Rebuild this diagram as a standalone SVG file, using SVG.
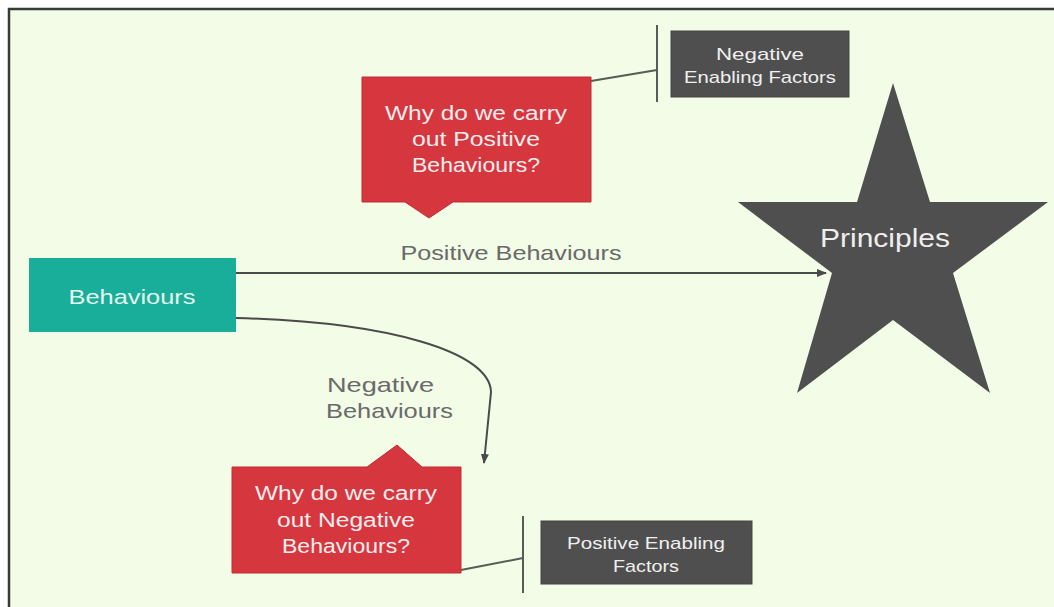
<svg xmlns="http://www.w3.org/2000/svg" width="1054" height="607" viewBox="0 0 1054 607">
<defs>
<style>
text{font-family:"Century Gothic","URW Gothic","Liberation Sans",Arial,sans-serif;}
.w{fill:#fbeeee;text-anchor:middle;font-size:20px;}
.g{fill:#f0f0f0;text-anchor:middle;font-size:17px;}
.lbl{fill:#6a6a6a;font-size:21px;}
.red{fill:#d6363e;stroke:#c52a32;stroke-width:1;}
.dk{fill:#4f4f4f;stroke:#444;stroke-width:1;}
.conn{stroke:#4a4a4a;fill:none;stroke-width:2;}
.thin{stroke:#555d55;fill:none;stroke-width:2;}
</style>
<marker id="ah" markerWidth="10" markerHeight="8" refX="9" refY="4" orient="auto" markerUnits="userSpaceOnUse">
<path d="M0,0 L10,4 L0,8 z" fill="#4a4a4a"/>
</marker>
</defs>
<rect x="0" y="0" width="1054" height="607" fill="#ffffff"/>
<rect x="9" y="9" width="1060" height="610" fill="#f2fce6" stroke="#3a3a3a" stroke-width="2.5"/>
<g id="connectors">
<line class="conn" x1="236" y1="273" x2="826" y2="273" marker-end="url(#ah)"/>
<path class="conn" d="M236,318 C390,322 490,352 491,392 L484,463" marker-end="url(#ah)"/>
<line class="thin" x1="591" y1="81" x2="657" y2="70"/>
<line class="thin" x1="657" y1="25" x2="657" y2="102"/>
<line class="thin" x1="461" y1="570" x2="523" y2="558"/>
<line class="thin" x1="523" y1="516" x2="523" y2="593"/>
<text class="lbl" x="511" y="260" text-anchor="middle" textLength="221" lengthAdjust="spacingAndGlyphs">Positive Behaviours</text>
<text class="lbl" x="327" y="392" textLength="107" lengthAdjust="spacingAndGlyphs">Negative</text>
<text class="lbl" x="326" y="418" textLength="127" lengthAdjust="spacingAndGlyphs">Behaviours</text>
</g>
<g id="behaviours">
<rect x="29" y="258" width="207" height="74" fill="#18ae99"/>
<text x="132" y="304" text-anchor="middle" fill="#e6f8ef" font-size="21" textLength="127" lengthAdjust="spacingAndGlyphs">Behaviours</text>
</g>
<g id="why-positive">
<path class="red" d="M362,77 H591 V202 H453 L429,218 L405,202 H362 Z"/>
<text class="w" x="476" y="120" textLength="182" lengthAdjust="spacingAndGlyphs">Why do we carry</text>
<text class="w" x="476" y="146" textLength="128" lengthAdjust="spacingAndGlyphs">out Positive</text>
<text class="w" x="476" y="172" textLength="128" lengthAdjust="spacingAndGlyphs">Behaviours?</text>
</g>
<g id="negative-enabling">
<rect class="dk" x="671" y="31" width="178" height="66"/>
<text class="g" x="760" y="60" textLength="88" lengthAdjust="spacingAndGlyphs">Negative</text>
<text class="g" x="760" y="83" textLength="152" lengthAdjust="spacingAndGlyphs">Enabling Factors</text>
</g>
<g id="why-negative">
<path class="red" d="M232,467 H367 L397,445 L422,467 H461 V573 H232 Z"/>
<text class="w" x="346" y="500" textLength="182" lengthAdjust="spacingAndGlyphs">Why do we carry</text>
<text class="w" x="346" y="527" textLength="138" lengthAdjust="spacingAndGlyphs">out Negative</text>
<text class="w" x="346" y="553" textLength="128" lengthAdjust="spacingAndGlyphs">Behaviours?</text>
</g>
<g id="positive-enabling">
<rect class="dk" x="541" y="521" width="211" height="63"/>
<text class="g" x="646" y="549" textLength="158" lengthAdjust="spacingAndGlyphs">Positive Enabling</text>
<text class="g" x="646" y="572" textLength="66" lengthAdjust="spacingAndGlyphs">Factors</text>
</g>
<g id="principles">
<polygon points="893,83 930,202 1048,202 953,273 990,393 893,320 797,393 832,273 738,202 857,202" fill="#4f4f4f"/>
<text x="885" y="247" text-anchor="middle" fill="#eeeeee" font-size="26" textLength="130" lengthAdjust="spacingAndGlyphs">Principles</text>
</g>
</svg>
